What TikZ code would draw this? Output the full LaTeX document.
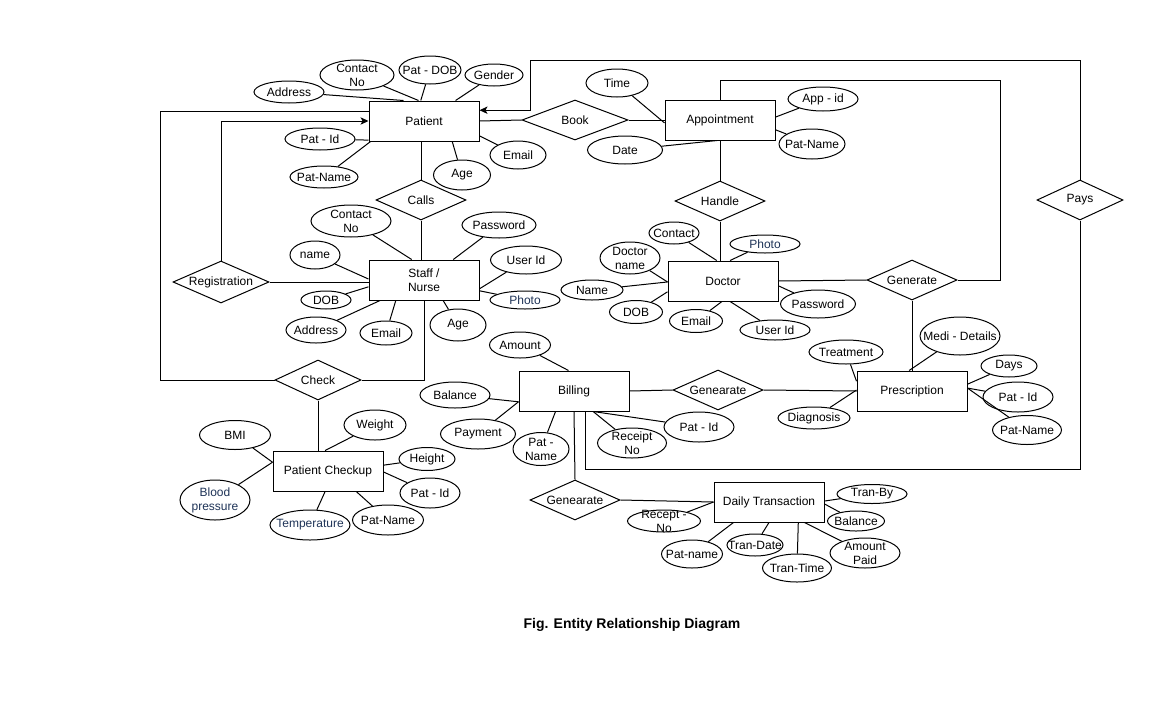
\documentclass[tikz,border=0pt]{standalone}
\usepackage{fontspec}
\setmainfont{Liberation Sans}
\usetikzlibrary{shapes.geometric,arrows.meta}
\definecolor{navy}{RGB}{31,52,88}
\newcommand\fs{\fontsize{9}{10.5}\selectfont}
\begin{document}
\begin{tikzpicture}[x=0.75pt,y=-0.75pt,line width=0.75pt,
  ent/.style={draw, rectangle, minimum width=82.5pt, minimum height=30pt, inner sep=2pt, align=center, font=\fs},
  rel/.style 2 args={draw, diamond, minimum width=#1*0.75pt, minimum height=#2*0.75pt, inner sep=0pt},
  ell/.style 2 args={draw, ellipse, minimum width=#1*0.75pt, minimum height=#2*0.75pt, inner sep=0pt},
  every label/.style={font=\fs, align=center, inner sep=0pt, text=black},
  arr/.style={-{Stealth[length=6pt,width=5.5pt,inset=1.5pt]}}]
\fill[white] (0,0) rectangle (1169,721);
\useasboundingbox (0,0) rectangle (1169,721);

% entities
\node[ent] (patient) at (424,121) {Patient};
\node[ent] (appt) at (720,120) {Appointment};
\node[ent] (staff) at (424,280) {Staff /\\Nurse};
\node[ent] (doctor) at (723,281) {Doctor};
\node[ent] (billing) at (574,391) {Billing};
\node[ent] (presc) at (912,391) {Prescription};
\node[ent] (checkup) at (328,471) {Patient Checkup};
\node[ent] (daily) at (769,502) {Daily Transaction};

% relationships
\node[rel={106}{40}, label=center:Book] (book) at (575,120) {};
\node[rel={90}{40}, label=center:Calls] (calls) at (421,200) {};
\node[rel={90}{40}, label=center:Handle] (handle) at (720,201) {};
\node[rel={96}{42}, label=center:Registration] (reg) at (221,282) {};
\node[rel={90}{40}, label=center:Generate] (gen) at (912,280) {};
\node[rel={86}{40}, label=center:Pays] (pays) at (1080,200) {};
\node[rel={86}{40}, label=center:Check] (check) at (318,380) {};
\node[rel={90}{40}, label=center:Genearate] (gen1) at (718,390) {};
\node[rel={90}{40}, label=center:Genearate] (gen2) at (575,500) {};

% patient attributes
\node[ell={70}{22}, label=center:Address] (pAddr) at (289,92) {};
\node[ell={74}{30}, label={center:Contact\\No}] (pContact) at (357,75) {};
\node[ell={62}{28}, label=center:Pat - DOB] (pDob) at (430,70) {};
\node[ell={58}{22}, label=center:Gender] (pGender) at (494,75) {};
\node[ell={70}{22}, label=center:Pat - Id] (pId) at (320,139) {};
\node[ell={68}{22}, label=center:Pat-Name] (pName) at (324,177) {};
\node[ell={57}{30}, label=center:Age] (pAge) at (462,175) {};
\node[ell={56}{28}, label=center:Email] (pEmail) at (518,155) {};
\draw (pAddr) -- (patient.135);
\draw (pContact) -- (patient.105);
\draw (pDob) -- (patient.99);
\draw (pGender) -- (patient.33);
\draw (pId) -- (patient.199);
\draw (pName) -- (patient.201);
\draw (pAge) -- (patient.324);
\draw (pEmail) -- (patient.345);

% appointment attributes
\node[ell={62}{28}, label=center:Time] (aTime) at (617,83) {};
\node[ell={70}{24}, label=center:App - id] (aId) at (823,99) {};
\node[ell={66}{30}, label=center:Pat-Name] (aName) at (812,144) {};
\node[ell={75}{28}, label=center:Date] (aDate) at (625,150) {};
\draw (aTime) -- (appt.183);
\draw (aId) -- (appt.3);
\draw (aName) -- (appt.350);
\draw (aDate) -- (appt.262);

% staff attributes
\node[ell={80}{32}, label={center:Contact\\No}] (sContact) at (351,221) {};
\node[ell={74}{26}, label=center:Password] (sPass) at (499,225) {};
\node[ell={50}{28}, label=center:name] (sName) at (315,255) {};
\node[ell={71}{28}, label=center:User Id] (sUid) at (526,260) {};
\node[ell={70}{18}, label={[text=navy]center:Photo}] (sPhoto) at (525,300) {};
\node[ell={50}{18}, label=center:DOB] (sDob) at (326,300) {};
\node[ell={60}{26}, label=center:Address] (sAddr) at (316,330) {};
\node[ell={52}{24}, label=center:Email] (sEmail) at (386,333) {};
\node[ell={56}{32}, label=center:Age] (sAge) at (458,325) {};
\draw (sContact) -- (staff.121);
\draw (sPass) -- (staff.35);
\draw (sName) -- (staff.179);
\draw (sUid) -- (staff.351);
\draw (sPhoto) -- (staff.349);
\draw (sDob) -- (staff.187);
\draw (sAddr) -- (staff.205);
\draw (sEmail) -- (staff.216);
\draw (sAge) -- (staff.313);

% doctor attributes
\node[ell={50}{22}, label=center:Contact] (dContact) at (674,233) {};
\node[ell={70}{18}, label={[text=navy]center:Photo}] (dPhoto) at (765,244) {};
\node[ell={60}{32}, label={center:Doctor\\name}] (dDname) at (630,258) {};
\node[ell={62}{20}, label=center:Name] (dName) at (592,290) {};
\node[ell={53}{23}, label=center:DOB] (dDob) at (636,312) {};
\node[ell={53}{23}, label=center:Email] (dEmail) at (696,321) {};
\node[ell={70}{20}, label=center:User Id] (dUid) at (775,330) {};
\node[ell={75}{28}, label=center:Password] (dPass) at (818,304) {};
\draw (dContact) -- (doctor.107);
\draw (dPhoto) -- (doctor.71);
\draw (dDname) -- (doctor.181);
\draw (dName) -- (doctor.181);
\draw (dDob) -- (doctor.191);
\draw (dEmail) -- (doctor.267);
\draw (dUid) -- (doctor.289);
\draw (dPass) -- (doctor.355);

% billing attributes
\node[ell={61}{26}, label=center:Amount] (bAmount) at (520,345) {};
\node[ell={70}{26}, label=center:Balance] (bBal) at (455,395) {};
\node[ell={75}{30}, label=center:Payment] (bPay) at (478,434) {};
\node[ell={56}{33}, label={center:Pat -\\Name}] (bPname) at (541,449) {};
\node[ell={69}{30}, label={center:Receipt\\No}] (bRec) at (632,443) {};
\node[ell={70}{30}, label=center:Pat - Id] (bPid) at (699,427) {};
\draw (bAmount) -- (billing.105);
\draw (bBal) -- (billing.191);
\draw (bPay) -- (billing.191);
\draw (bPname) -- (billing.228);
\draw (bRec) -- (billing.313);
\draw (bPid) -- (billing.313);

% prescription attributes
\node[ell={74}{24}, label=center:Treatment] (rTreat) at (846,352) {};
\node[ell={80}{38}, label=center:Medi - Details] (rMedi) at (960,336) {};
\node[ell={56}{22}, label=center:Days] (rDays) at (1009,366) {};
\node[ell={70}{30}, label=center:Pat - Id] (rPid) at (1018,397) {};
\node[ell={69}{29}, label=center:Pat-Name] (rPname) at (1027,430) {};
\node[ell={72}{22}, label=center:Diagnosis] (rDiag) at (814,418) {};
\draw (rTreat) -- (presc.170);
\draw (rMedi) -- (presc.98);
\draw (rDays) -- (presc.7);
\draw (rPid) -- (presc.3);
\draw (rPname) -- (presc.3);
\draw (rDiag) -- (presc.179);

% checkup attributes
\node[ell={71}{29}, label=center:BMI] (cBmi) at (235,435) {};
\node[ell={62}{30}, label=center:Weight] (cWeight) at (375,425) {};
\node[ell={56}{23}, label=center:Height] (cHeight) at (427,459) {};
\node[ell={60}{30}, label=center:Pat - Id] (cPid) at (430,493) {};
\node[ell={71}{30}, label=center:Pat-Name] (cPname) at (388,520) {};
\node[ell={80}{30}, label={[text=navy]center:Temperature}] (cTemp) at (310,525) {};
\node[ell={70}{40}, label={[text=navy]center:Blood\\pressure}] (cBp) at (215,500) {};
\draw (cBmi) -- (checkup.171);
\draw (cBp) -- (checkup.171);
\draw (cWeight) -- (checkup.98);
\draw (cHeight) -- (checkup.6);
\draw (cPid) -- (checkup.359);
\draw (cPname) -- (checkup.324);
\draw (cTemp) -- (checkup.262);

% daily transaction attributes
\node[ell={70}{19}, label=center:Tran-By] (tBy) at (872,494) {};
\node[ell={57}{20}, label=center:Balance] (tBal) at (856,521) {};
\node[ell={70}{30}, label={center:Amount\\Paid}] (tAmt) at (865,553) {};
\node[ell={69}{28}, label=center:Tran-Time] (tTime) at (797,568) {};
\node[ell={56}{22}, label=center:Tran-Date] (tDate) at (755,545) {};
\node[ell={61}{28}, label=center:Pat-name] (tPname) at (692,554) {};
\node[ell={73}{22}, label={center:Recept -\\No}] (tRec) at (664,521) {};
\draw (tBy) -- (daily.1);
\draw (tBal) -- (daily.358);
\draw (tAmt) -- (daily.330);
\draw (tTime) -- (daily.325);
\draw (tDate) -- (daily.270);
\draw (tPname) -- (daily.210);
\draw (tRec) -- (daily.180);

% relationship connectors
\coordinate (ar) at (1000,80);
\coordinate (lc) at (160,111);
\coordinate (pb) at (1080,469);
\coordinate (ptl) at (530,60);
\draw (patient.east) -- (book.west);
\draw (book.east) -- (appt.west);
\draw (calls.north |- patient.south) -- (calls.north);
\draw (calls.south) -- (calls.south |- staff.north);
\draw (appt.south) -- (handle.north);
\draw (handle.south) -- (handle.south |- doctor.north);
\draw (doctor.east) -- (gen.west);
\draw (gen.south) -- (presc.north);
\draw (appt.north) |- (ar) |- (gen.east);
\draw[arr] (reg.north) |- (patient.west);
\draw (reg.east) -- (reg.east -| staff.west);
\draw (check.west) -| (lc) -- (lc -| patient.west);
\draw (check.east) -| (staff.south);
\draw (check.south) -- (check.south |- checkup.north);
\draw (billing.east) -- (gen1.west);
\draw (gen1.east) -- (presc.west);
\draw (billing.south) -- (gen2.north);
\draw (gen2.east) -- (daily.west);
\draw (billing.299) |- (pb) -- (pays.south);
\draw[arr] (pays.north) |- (ptl) |- (patient.11);

\node[font=\bfseries\fontsize{10.5}{12}\selectfont] (cap) at (632,625) {Fig. Entity Relationship Diagram};
\end{tikzpicture}
\end{document}
